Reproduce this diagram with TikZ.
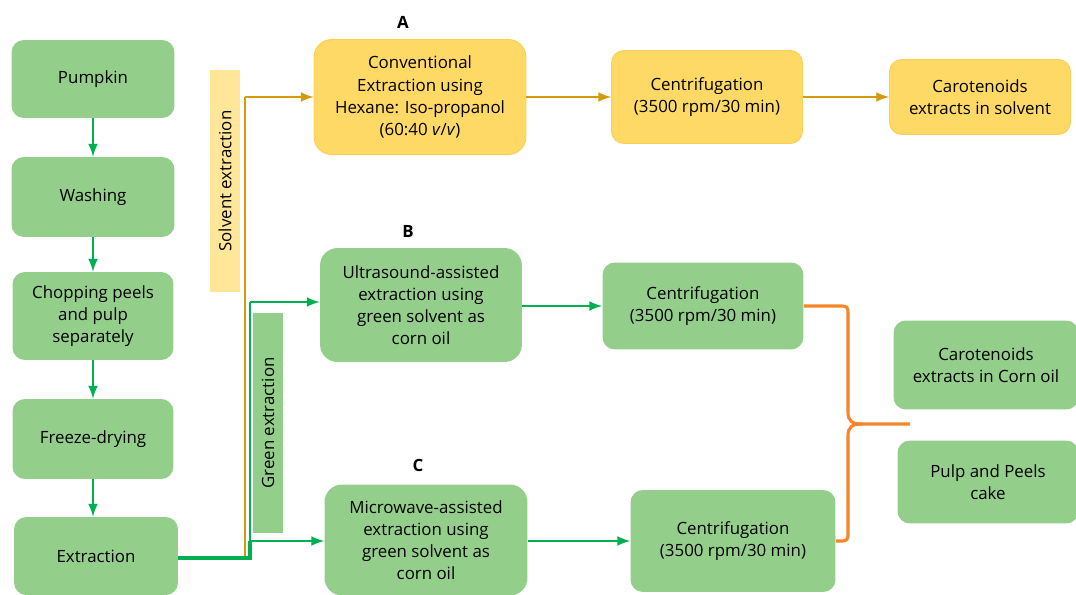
\documentclass[tikz,border=0pt]{standalone}
\usepackage{fontspec}
\setmainfont{Open Sans}
\usepackage{tikz}
\usetikzlibrary{positioning,shapes,arrows}

\definecolor{boxgreen}{HTML}{94CE8B}
\definecolor{boxyellow}{HTML}{FFD965}
\definecolor{labyellow}{HTML}{FFE699}
\definecolor{arrgreen}{HTML}{00B050}
\definecolor{arrgold}{HTML}{D49A0C}
\definecolor{braceorange}{HTML}{F7862A}

\begin{document}
\begin{tikzpicture}[x=0.02cm,y=-0.02cm]
\tikzstyle{every node}+=[inner sep=0pt, font=\fontsize{9.6}{12.6}\selectfont, align=center]
\tikzstyle{gbox}=[rectangle, rounded corners=7pt, fill=boxgreen]
\tikzstyle{ybox}=[rectangle, rounded corners=7pt, fill=boxyellow, draw=boxyellow!85!orange, line width=0.5pt]
\tikzstyle{glink}=[arrgreen, line width=1.5pt, -latex]
\tikzstyle{ylink}=[arrgold, line width=1.5pt, -latex]
\tikzstyle{tag}=[font=\fontsize{9.6}{11}\selectfont\bfseries]
\useasboundingbox (0,0) rectangle (1076,595);
\node [gbox, minimum width=3.26cm, minimum height=1.56cm] (pumpkin) at (93,79) {Pumpkin};
\node [gbox, minimum width=3.26cm, minimum height=1.60cm] (washing) at (93,197) {Washing};
\node [gbox, minimum width=3.22cm, minimum height=1.76cm] (chopping) at (93,316) {Chopping peels\\and pulp\\separately};
\node [gbox, minimum width=3.22cm, minimum height=1.60cm] (freeze) at (93,439) {Freeze-drying};
\node [gbox, minimum width=3.28cm, minimum height=1.56cm] (extract) at (96,556) {Extraction};
\draw [glink] (pumpkin) -- (washing);
\draw [glink] (washing) -- (chopping);
\draw [glink] (chopping) -- (freeze);
\draw [glink] (freeze.south) -- (freeze.south |- extract.north);
\node [fill=labyellow, minimum width=0.60cm, minimum height=4.44cm] (solvlab) at (225,181) {};
\node [rotate=90] at (solvlab) {Solvent extraction};
\node [fill=boxgreen, minimum width=0.62cm, minimum height=4.40cm] (greenlab) at (268,423) {};
\node [rotate=90] at (greenlab) {Green extraction};
\node [ybox, rounded corners=10pt, minimum width=4.24cm, minimum height=2.30cm] (convA) at (420,97) {Conventional\\Extraction using\\Hexane: Iso-propanol\\(60:40 \textit{v}/\textit{v})};
\node [ybox, minimum width=3.82cm, minimum height=1.86cm] (centA) at (707,97) {Centrifugation\\(3500 rpm/30 min)};
\node [ybox, minimum width=3.62cm, minimum height=1.50cm] (caroA) at (980,97) {Carotenoids\\extracts in solvent};
\node [tag] at (403,22) {A};
\node [gbox, rounded corners=10pt, minimum width=4.04cm, minimum height=2.28cm] (ultraB) at (421,305) {Ultrasound-assisted\\extraction using\\green solvent as\\corn oil};
\node [gbox, minimum width=4.02cm, minimum height=1.74cm] (centB) at (703,306) {Centrifugation\\(3500 rpm/30 min)};
\node [tag] at (408,231) {B};
\node [gbox, rounded corners=10pt, minimum width=4.06cm, minimum height=2.22cm] (microC) at (426,540) {Microwave-assisted\\extraction using\\green solvent as\\corn oil};
\node [gbox, minimum width=4.10cm, minimum height=2.04cm] (centC) at (733,541) {Centrifugation\\(3500 rpm/30 min)};
\node [tag] at (418,465) {C};
\node [gbox, minimum width=3.70cm, minimum height=1.78cm] (caroB) at (986,365) {Carotenoids\\extracts in Corn oil};
\node [gbox, minimum width=3.62cm, minimum height=1.66cm] (pulp) at (988,482) {Pulp and Peels\\cake};
\coordinate (foot) at (250,558);
\coordinate (turnA) at (245,97);
\coordinate (turnB) at (250,302);
\coordinate (turnC) at (250,541);
\draw [arrgold, line width=1.5pt] (245,558) -- (turnA);
\draw [ylink] (turnA) -- (convA.west);
\draw [arrgreen, line width=2.4pt] (extract.east |- foot) -- (foot) -- (turnC);
\draw [arrgreen, line width=1.5pt] (turnC) -- (turnB);
\draw [glink] (turnB) -- (turnB -| ultraB.west);
\draw [glink] (turnC) -- (turnC -| microC.west);
\draw [ylink] (convA) -- (centA);
\draw [ylink] (centA) -- (caroA);
\draw [glink] (ultraB.east |- centB) -- (centB);
\draw [glink] (microC.east |- centC) -- (centC);
\draw [braceorange, line width=1.8pt] (centB.east) -- (838,306) .. controls (848,306) .. (848,316) -- (848,412) .. controls (848,421) and (852,424) .. (862,424) -- (910,424);
\draw [braceorange, line width=1.8pt] (862,424) .. controls (852,424) and (848,427) .. (848,436) -- (848,531) .. controls (848,541) .. (838,541) -- (centC.east);
\end{tikzpicture}
\end{document}
